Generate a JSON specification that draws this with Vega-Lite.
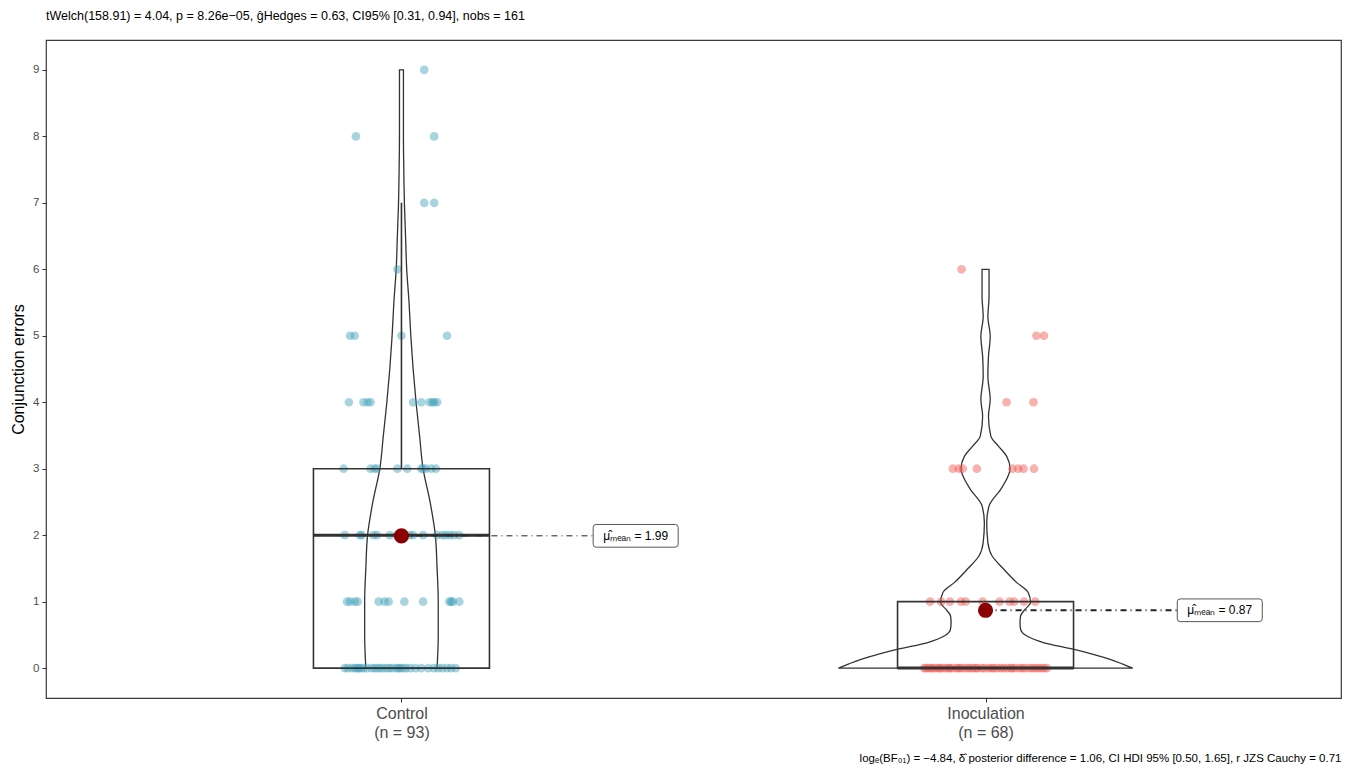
{
  "$schema": "https://vega.github.io/schema/vega-lite/v6.json",
  "autosize": {"type": "none"},
  "width": 1295,
  "height": 658,
  "padding": {"left": 46, "top": 40, "right": 13, "bottom": 79},
  "background": "white",
  "config": {
    "font": "Liberation Sans",
    "view": {"stroke": "#3a3a3a", "strokeWidth": 1.2},
    "axis": {"grid": false, "domain": false, "tickColor": "#333333", "tickSize": 4, "labelColor": "#4D4D4D", "labelFont": "Liberation Sans", "titleFont": "Liberation Sans", "titleFontWeight": "normal", "titleColor": "#000000"}
  },
  "title": {"text": "tWelch(158.91) = 4.04, p = 8.26e\u221205, g\u0302Hedges = 0.63, CI95% [0.31, 0.94], nobs = 161", "anchor": "start", "frame": "group", "fontSize": 12.5, "fontWeight": "normal", "font": "Liberation Sans", "color": "#000000", "offset": 18},
  "datasets": {
    "violin": [
      {"g": "Control", "v": 0, "l": 0.939, "r": 1.061},
      {"g": "Control", "v": 0.5, "l": 0.937, "r": 1.063},
      {"g": "Control", "v": 1, "l": 0.937, "r": 1.063},
      {"g": "Control", "v": 1.5, "l": 0.939, "r": 1.061},
      {"g": "Control", "v": 2, "l": 0.942, "r": 1.058},
      {"g": "Control", "v": 2.5, "l": 0.951, "r": 1.049},
      {"g": "Control", "v": 3, "l": 0.963, "r": 1.037},
      {"g": "Control", "v": 3.5, "l": 0.969, "r": 1.031},
      {"g": "Control", "v": 4, "l": 0.975, "r": 1.025},
      {"g": "Control", "v": 4.5, "l": 0.980, "r": 1.020},
      {"g": "Control", "v": 5, "l": 0.984, "r": 1.016},
      {"g": "Control", "v": 5.5, "l": 0.987, "r": 1.013},
      {"g": "Control", "v": 6, "l": 0.991, "r": 1.009},
      {"g": "Control", "v": 6.5, "l": 0.993, "r": 1.007},
      {"g": "Control", "v": 7, "l": 0.995, "r": 1.005},
      {"g": "Control", "v": 7.5, "l": 0.996, "r": 1.004},
      {"g": "Control", "v": 8, "l": 0.9966, "r": 1.0034},
      {"g": "Control", "v": 8.5, "l": 0.9966, "r": 1.0034},
      {"g": "Control", "v": 9, "l": 0.9966, "r": 1.0034},
      {"g": "Inoculation", "v": 0, "l": 1.748, "r": 2.252},
      {"g": "Inoculation", "v": 0.06, "l": 1.765, "r": 2.235},
      {"g": "Inoculation", "v": 0.135, "l": 1.788, "r": 2.212},
      {"g": "Inoculation", "v": 0.21, "l": 1.817, "r": 2.183},
      {"g": "Inoculation", "v": 0.285, "l": 1.850, "r": 2.150},
      {"g": "Inoculation", "v": 0.385, "l": 1.901, "r": 2.099},
      {"g": "Inoculation", "v": 0.486, "l": 1.930, "r": 2.070},
      {"g": "Inoculation", "v": 0.586, "l": 1.940, "r": 2.060},
      {"g": "Inoculation", "v": 0.686, "l": 1.941, "r": 2.059},
      {"g": "Inoculation", "v": 0.786, "l": 1.940, "r": 2.060},
      {"g": "Inoculation", "v": 0.886, "l": 1.932, "r": 2.068},
      {"g": "Inoculation", "v": 0.987, "l": 1.923, "r": 2.077},
      {"g": "Inoculation", "v": 1.137, "l": 1.927, "r": 2.073},
      {"g": "Inoculation", "v": 1.29, "l": 1.947, "r": 2.053},
      {"g": "Inoculation", "v": 1.49, "l": 1.969, "r": 2.031},
      {"g": "Inoculation", "v": 1.69, "l": 1.989, "r": 2.011},
      {"g": "Inoculation", "v": 1.89, "l": 1.996, "r": 2.004},
      {"g": "Inoculation", "v": 2.19, "l": 1.998, "r": 2.002},
      {"g": "Inoculation", "v": 2.44, "l": 1.994, "r": 2.006},
      {"g": "Inoculation", "v": 2.69, "l": 1.974, "r": 2.026},
      {"g": "Inoculation", "v": 2.84, "l": 1.964, "r": 2.036},
      {"g": "Inoculation", "v": 3.0, "l": 1.958, "r": 2.042},
      {"g": "Inoculation", "v": 3.19, "l": 1.964, "r": 2.036},
      {"g": "Inoculation", "v": 3.34, "l": 1.978, "r": 2.022},
      {"g": "Inoculation", "v": 3.49, "l": 1.991, "r": 2.009},
      {"g": "Inoculation", "v": 3.79, "l": 1.995, "r": 2.005},
      {"g": "Inoculation", "v": 4.04, "l": 1.992, "r": 2.008},
      {"g": "Inoculation", "v": 4.39, "l": 1.996, "r": 2.004},
      {"g": "Inoculation", "v": 4.69, "l": 1.995, "r": 2.005},
      {"g": "Inoculation", "v": 4.99, "l": 1.992, "r": 2.008},
      {"g": "Inoculation", "v": 5.29, "l": 1.996, "r": 2.004},
      {"g": "Inoculation", "v": 5.59, "l": 1.994, "r": 2.006},
      {"g": "Inoculation", "v": 6.0, "l": 1.994, "r": 2.006}
    ],
    "points": [
      {"g": "Control", "v": 9, "x": 1.039},
      {"g": "Control", "v": 8, "x": 0.922}, {"g": "Control", "v": 8, "x": 1.056},
      {"g": "Control", "v": 7, "x": 1.039}, {"g": "Control", "v": 7, "x": 1.056},
      {"g": "Control", "v": 6, "x": 0.993},
      {"g": "Control", "v": 5, "x": 0.912}, {"g": "Control", "v": 5, "x": 0.920}, {"g": "Control", "v": 5, "x": 1.000}, {"g": "Control", "v": 5, "x": 1.078},
      {"g": "Control", "v": 4, "x": 0.910}, {"g": "Control", "v": 4, "x": 0.935}, {"g": "Control", "v": 4, "x": 0.942}, {"g": "Control", "v": 4, "x": 0.947}, {"g": "Control", "v": 4, "x": 1.020}, {"g": "Control", "v": 4, "x": 1.034}, {"g": "Control", "v": 4, "x": 1.048}, {"g": "Control", "v": 4, "x": 1.053}, {"g": "Control", "v": 4, "x": 1.056}, {"g": "Control", "v": 4, "x": 1.061},
      {"g": "Control", "v": 3, "x": 0.901}, {"g": "Control", "v": 3, "x": 0.947}, {"g": "Control", "v": 3, "x": 0.954}, {"g": "Control", "v": 3, "x": 0.958}, {"g": "Control", "v": 3, "x": 0.993}, {"g": "Control", "v": 3, "x": 1.010}, {"g": "Control", "v": 3, "x": 1.034}, {"g": "Control", "v": 3, "x": 1.037}, {"g": "Control", "v": 3, "x": 1.042}, {"g": "Control", "v": 3, "x": 1.051}, {"g": "Control", "v": 3, "x": 1.059},
      {"g": "Control", "v": 2, "x": 0.903}, {"g": "Control", "v": 2, "x": 0.929}, {"g": "Control", "v": 2, "x": 0.932}, {"g": "Control", "v": 2, "x": 0.952}, {"g": "Control", "v": 2, "x": 0.958}, {"g": "Control", "v": 2, "x": 0.980}, {"g": "Control", "v": 2, "x": 0.992}, {"g": "Control", "v": 2, "x": 1.003}, {"g": "Control", "v": 2, "x": 1.014}, {"g": "Control", "v": 2, "x": 1.020}, {"g": "Control", "v": 2, "x": 1.037}, {"g": "Control", "v": 2, "x": 1.061}, {"g": "Control", "v": 2, "x": 1.070}, {"g": "Control", "v": 2, "x": 1.076}, {"g": "Control", "v": 2, "x": 1.083}, {"g": "Control", "v": 2, "x": 1.090}, {"g": "Control", "v": 2, "x": 1.099},
      {"g": "Control", "v": 1, "x": 0.907}, {"g": "Control", "v": 1, "x": 0.912}, {"g": "Control", "v": 1, "x": 0.920}, {"g": "Control", "v": 1, "x": 0.925}, {"g": "Control", "v": 1, "x": 0.961}, {"g": "Control", "v": 1, "x": 0.971}, {"g": "Control", "v": 1, "x": 0.978}, {"g": "Control", "v": 1, "x": 1.005}, {"g": "Control", "v": 1, "x": 1.037}, {"g": "Control", "v": 1, "x": 1.082}, {"g": "Control", "v": 1, "x": 1.085}, {"g": "Control", "v": 1, "x": 1.088}, {"g": "Control", "v": 1, "x": 1.099},
      {"g": "Control", "v": 0, "x": 0.903}, {"g": "Control", "v": 0, "x": 0.908}, {"g": "Control", "v": 0, "x": 0.915}, {"g": "Control", "v": 0, "x": 0.920}, {"g": "Control", "v": 0, "x": 0.924}, {"g": "Control", "v": 0, "x": 0.927}, {"g": "Control", "v": 0, "x": 0.930}, {"g": "Control", "v": 0, "x": 0.935}, {"g": "Control", "v": 0, "x": 0.941}, {"g": "Control", "v": 0, "x": 0.949}, {"g": "Control", "v": 0, "x": 0.954}, {"g": "Control", "v": 0, "x": 0.959}, {"g": "Control", "v": 0, "x": 0.964}, {"g": "Control", "v": 0, "x": 0.969}, {"g": "Control", "v": 0, "x": 0.975}, {"g": "Control", "v": 0, "x": 0.980}, {"g": "Control", "v": 0, "x": 0.985}, {"g": "Control", "v": 0, "x": 0.992}, {"g": "Control", "v": 0, "x": 0.995}, {"g": "Control", "v": 0, "x": 0.998}, {"g": "Control", "v": 0, "x": 1.003}, {"g": "Control", "v": 0, "x": 1.008}, {"g": "Control", "v": 0, "x": 1.015}, {"g": "Control", "v": 0, "x": 1.024}, {"g": "Control", "v": 0, "x": 1.034}, {"g": "Control", "v": 0, "x": 1.046}, {"g": "Control", "v": 0, "x": 1.056}, {"g": "Control", "v": 0, "x": 1.063}, {"g": "Control", "v": 0, "x": 1.070}, {"g": "Control", "v": 0, "x": 1.078}, {"g": "Control", "v": 0, "x": 1.085}, {"g": "Control", "v": 0, "x": 1.093},
      {"g": "Inoculation", "v": 6, "x": 1.959},
      {"g": "Inoculation", "v": 5, "x": 2.087}, {"g": "Inoculation", "v": 5, "x": 2.100},
      {"g": "Inoculation", "v": 4, "x": 2.036}, {"g": "Inoculation", "v": 4, "x": 2.082},
      {"g": "Inoculation", "v": 3, "x": 1.944}, {"g": "Inoculation", "v": 3, "x": 1.954}, {"g": "Inoculation", "v": 3, "x": 1.961}, {"g": "Inoculation", "v": 3, "x": 1.985}, {"g": "Inoculation", "v": 3, "x": 2.046}, {"g": "Inoculation", "v": 3, "x": 2.056}, {"g": "Inoculation", "v": 3, "x": 2.065}, {"g": "Inoculation", "v": 3, "x": 2.083},
      {"g": "Inoculation", "v": 1, "x": 1.905}, {"g": "Inoculation", "v": 1, "x": 1.924}, {"g": "Inoculation", "v": 1, "x": 1.939}, {"g": "Inoculation", "v": 1, "x": 1.958}, {"g": "Inoculation", "v": 1, "x": 1.966}, {"g": "Inoculation", "v": 1, "x": 1.995}, {"g": "Inoculation", "v": 1, "x": 2.024}, {"g": "Inoculation", "v": 1, "x": 2.041}, {"g": "Inoculation", "v": 1, "x": 2.049}, {"g": "Inoculation", "v": 1, "x": 2.066}, {"g": "Inoculation", "v": 1, "x": 2.085},
      {"g": "Inoculation", "v": 0, "x": 1.895}, {"g": "Inoculation", "v": 0, "x": 1.898}, {"g": "Inoculation", "v": 0, "x": 1.903}, {"g": "Inoculation", "v": 0, "x": 1.907}, {"g": "Inoculation", "v": 0, "x": 1.910}, {"g": "Inoculation", "v": 0, "x": 1.915}, {"g": "Inoculation", "v": 0, "x": 1.920}, {"g": "Inoculation", "v": 0, "x": 1.922}, {"g": "Inoculation", "v": 0, "x": 1.927}, {"g": "Inoculation", "v": 0, "x": 1.932}, {"g": "Inoculation", "v": 0, "x": 1.937}, {"g": "Inoculation", "v": 0, "x": 1.939}, {"g": "Inoculation", "v": 0, "x": 1.944}, {"g": "Inoculation", "v": 0, "x": 1.951}, {"g": "Inoculation", "v": 0, "x": 1.954}, {"g": "Inoculation", "v": 0, "x": 1.958}, {"g": "Inoculation", "v": 0, "x": 1.963}, {"g": "Inoculation", "v": 0, "x": 1.969}, {"g": "Inoculation", "v": 0, "x": 1.973}, {"g": "Inoculation", "v": 0, "x": 1.978}, {"g": "Inoculation", "v": 0, "x": 1.983}, {"g": "Inoculation", "v": 0, "x": 1.986}, {"g": "Inoculation", "v": 0, "x": 1.993}, {"g": "Inoculation", "v": 0, "x": 1.998}, {"g": "Inoculation", "v": 0, "x": 2.005}, {"g": "Inoculation", "v": 0, "x": 2.010}, {"g": "Inoculation", "v": 0, "x": 2.014}, {"g": "Inoculation", "v": 0, "x": 2.020}, {"g": "Inoculation", "v": 0, "x": 2.026}, {"g": "Inoculation", "v": 0, "x": 2.031}, {"g": "Inoculation", "v": 0, "x": 2.037}, {"g": "Inoculation", "v": 0, "x": 2.043}, {"g": "Inoculation", "v": 0, "x": 2.046}, {"g": "Inoculation", "v": 0, "x": 2.051}, {"g": "Inoculation", "v": 0, "x": 2.058}, {"g": "Inoculation", "v": 0, "x": 2.063}, {"g": "Inoculation", "v": 0, "x": 2.068}, {"g": "Inoculation", "v": 0, "x": 2.075}, {"g": "Inoculation", "v": 0, "x": 2.080}, {"g": "Inoculation", "v": 0, "x": 2.085}, {"g": "Inoculation", "v": 0, "x": 2.090}, {"g": "Inoculation", "v": 0, "x": 2.095}, {"g": "Inoculation", "v": 0, "x": 2.100}, {"g": "Inoculation", "v": 0, "x": 2.105}
    ],
    "boxes": [
      {"g": "Control", "x": 1, "q1": 0, "q3": 3, "med": 2, "hi": 7},
      {"g": "Inoculation", "x": 2, "q1": 0, "q3": 1, "med": 0, "hi": 1}
    ],
    "means": [
      {"g": "Control", "x": 1, "m": 1.99, "lx": 1.401, "lab": "\u03bc\u0302\u2098\u2091\u2090\u2099 = 1.99"},
      {"g": "Inoculation", "x": 2, "m": 0.87, "lx": 2.401, "lab": "\u03bc\u0302\u2098\u2091\u2090\u2099 = 0.87"}
    ]
  },
  "layer": [
    {
      "data": {"name": "violin"},
      "mark": {"type": "area", "orient": "horizontal", "interpolate": "monotone", "fill": "white", "fillOpacity": 0, "stroke": "#333333", "strokeWidth": 1.3},
      "encoding": {
        "y": {"field": "v", "type": "quantitative", "scale": {"domain": [-0.45, 9.45], "nice": false, "zero": false},
              "axis": {"values": [0, 1, 2, 3, 4, 5, 6, 7, 8, 9], "format": "d", "title": "Conjunction errors", "titleFontSize": 16, "labelFontSize": 11.5, "labelPadding": 3, "titlePadding": 6}},
        "x": {"field": "l", "type": "quantitative", "scale": {"domain": [0.4, 2.6], "nice": false, "zero": false},
              "axis": {"values": [1, 2], "labelExpr": "datum.value == 1 ? ['Control', '(n = 93)'] : ['Inoculation', '(n = 68)']", "labelFontSize": 16, "labelLineHeight": 19, "labelPadding": 3,
                       "title": "log\u2091(BF\u2080\u2081) = \u22124.84, \u03b4\u0302 posterior difference = 1.06, CI HDI 95% [0.50, 1.65], r JZS Cauchy = 0.71",
                       "titleAnchor": "end", "titleFontSize": 11.5, "titlePadding": 12}},
        "x2": {"field": "r"},
        "detail": {"field": "g"}
      }
    },
    {
      "data": {"name": "points"},
      "mark": {"type": "circle", "size": 75, "opacity": 0.45},
      "encoding": {
        "x": {"field": "x", "type": "quantitative", "scale": {"domain": [0.4, 2.6], "nice": false, "zero": false}},
        "y": {"field": "v", "type": "quantitative", "scale": {"domain": [-0.45, 9.45], "nice": false, "zero": false}},
        "color": {"field": "g", "type": "nominal", "scale": {"domain": ["Control", "Inoculation"], "range": ["#3FA0BA", "#F0524A"]}, "legend": null}
      }
    },
    {
      "data": {"name": "boxes"},
      "mark": {"type": "bar", "width": 176, "fill": "white", "fillOpacity": 0, "stroke": "#333333", "strokeWidth": 1.6},
      "encoding": {
        "x": {"field": "x", "type": "quantitative", "scale": {"domain": [0.4, 2.6], "nice": false, "zero": false}},
        "y": {"field": "q1", "type": "quantitative", "scale": {"domain": [-0.45, 9.45], "nice": false, "zero": false}},
        "y2": {"field": "q3"}
      }
    },
    {
      "data": {"name": "boxes"},
      "mark": {"type": "tick", "orient": "horizontal", "size": 176, "thickness": 3, "color": "#333333", "opacity": 1},
      "encoding": {
        "x": {"field": "x", "type": "quantitative", "scale": {"domain": [0.4, 2.6], "nice": false, "zero": false}},
        "y": {"field": "med", "type": "quantitative", "scale": {"domain": [-0.45, 9.45], "nice": false, "zero": false}}
      }
    },
    {
      "data": {"name": "boxes"},
      "mark": {"type": "rule", "color": "#333333", "strokeWidth": 1.6},
      "encoding": {
        "x": {"field": "x", "type": "quantitative", "scale": {"domain": [0.4, 2.6], "nice": false, "zero": false}},
        "y": {"field": "q3", "type": "quantitative", "scale": {"domain": [-0.45, 9.45], "nice": false, "zero": false}},
        "y2": {"field": "hi"}
      }
    },
    {
      "data": {"name": "means"},
      "mark": {"type": "rule", "strokeDash": [6, 4, 1, 4]},
      "encoding": {
        "x": {"field": "x", "type": "quantitative", "scale": {"domain": [0.4, 2.6], "nice": false, "zero": false}},
        "x2": {"field": "lx"},
        "y": {"field": "m", "type": "quantitative", "scale": {"domain": [-0.45, 9.45], "nice": false, "zero": false}},
        "strokeWidth": {"field": "g", "type": "nominal", "scale": {"domain": ["Control", "Inoculation"], "range": [1, 2]}, "legend": null},
        "color": {"value": "#222222"}
      }
    },
    {
      "data": {"name": "means"},
      "mark": {"type": "circle", "size": 230, "color": "#8B0000", "opacity": 1},
      "encoding": {
        "x": {"field": "x", "type": "quantitative", "scale": {"domain": [0.4, 2.6], "nice": false, "zero": false}},
        "y": {"field": "m", "type": "quantitative", "scale": {"domain": [-0.45, 9.45], "nice": false, "zero": false}}
      }
    },
    {
      "data": {"name": "means"},
      "mark": {"type": "point", "shape": "M-0.93,-0.267 H0.93 Q1,-0.267 1,-0.197 V0.197 Q1,0.267 0.93,0.267 H-0.93 Q-1,0.267 -1,0.197 V-0.197 Q-1,-0.267 -0.93,-0.267 Z", "size": 7225, "filled": true, "fill": "white", "fillOpacity": 1, "stroke": "#444444", "strokeWidth": 0.9, "opacity": 1},
      "encoding": {
        "x": {"field": "lx", "type": "quantitative", "scale": {"domain": [0.4, 2.6], "nice": false, "zero": false}},
        "y": {"field": "m", "type": "quantitative", "scale": {"domain": [-0.45, 9.45], "nice": false, "zero": false}}
      }
    },
    {
      "data": {"name": "means"},
      "mark": {"type": "text", "fontSize": 12, "font": "Liberation Sans", "color": "#000000", "align": "center", "baseline": "middle"},
      "encoding": {
        "x": {"field": "lx", "type": "quantitative", "scale": {"domain": [0.4, 2.6], "nice": false, "zero": false}},
        "y": {"field": "m", "type": "quantitative", "scale": {"domain": [-0.45, 9.45], "nice": false, "zero": false}},
        "text": {"field": "lab"}
      }
    }
  ]
}
